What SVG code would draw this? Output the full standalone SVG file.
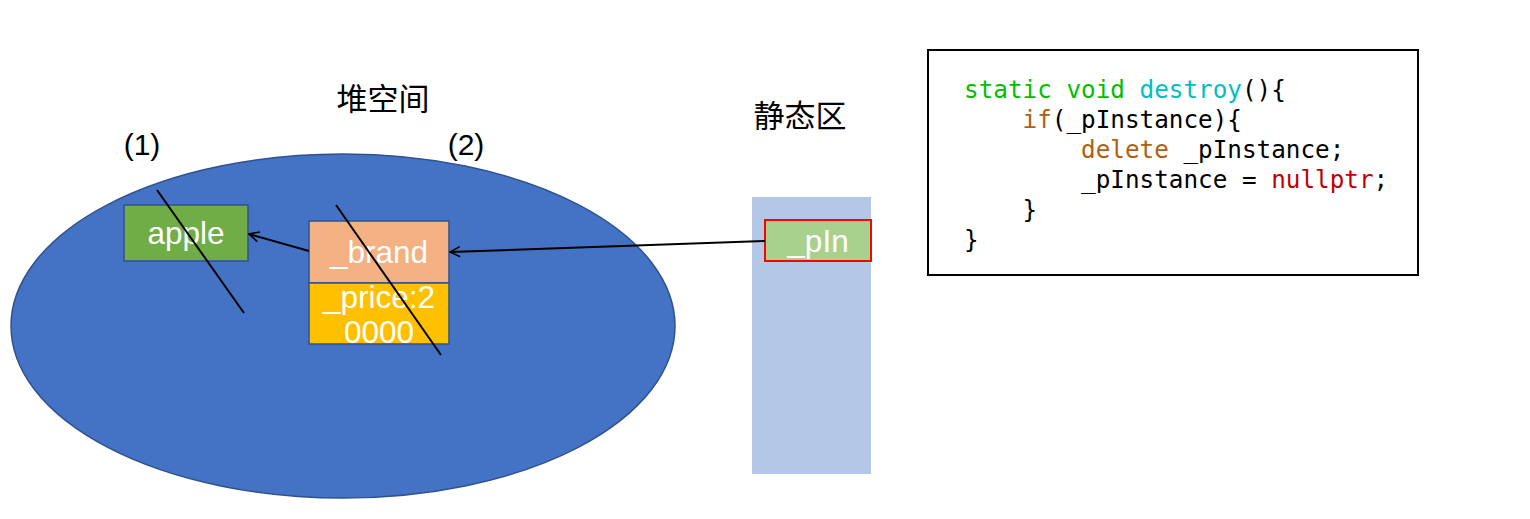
<svg xmlns="http://www.w3.org/2000/svg" width="1530" height="519" viewBox="0 0 1530 519">
<defs>
<style>
.lbl{font-family:"Liberation Sans",Arial,sans-serif;fill:#fff;font-size:31.5px;text-anchor:middle}
.blk{font-family:"Liberation Sans",Arial,sans-serif;fill:#000;font-size:30px;text-anchor:middle}
.cjk{font-family:"Liberation Serif","Noto Sans CJK SC",serif;fill:#000;font-size:31px;text-anchor:middle}
.code{font-family:"DejaVu Sans Mono",monospace;font-size:24.3px;fill:#000;white-space:pre}
.box{stroke:#2F528F;stroke-width:1.5}
.conn{stroke:#000;stroke-width:2;fill:none}
.kw{fill:#00C000}.fn{fill:#00C0C0}.br{fill:#B06010}.nl{fill:#C00000}
</style>
<marker id="arr" viewBox="0 0 12 12" refX="11" refY="6" markerWidth="12" markerHeight="12" markerUnits="userSpaceOnUse" orient="auto">
<path d="M1,1 L11,6 L1,11" fill="none" stroke="#000" stroke-width="1.6"/>
</marker>
</defs>
<rect width="1530" height="519" fill="#fff"/>
<g id="heap">
<ellipse cx="343" cy="326" rx="332" ry="172" fill="#4472C4" stroke="#2F528F" stroke-width="1.5"/>
</g>
<text class="cjk" x="383" y="110">堆空间</text>
<text class="blk" x="142" y="155">(1)</text>
<text class="blk" x="466" y="155">(2)</text>
<g id="static-area">
<rect x="752" y="197" width="119" height="277" fill="#B4C7E7"/>
</g>
<text class="cjk" x="800" y="127">静态区</text>
<g id="apple">
<rect class="box" x="124" y="205" width="124" height="56" fill="#70AD47"/>
<text class="lbl" x="186" y="244">apple</text>
</g>
<g id="object">
<rect class="box" x="309" y="221" width="140" height="62" fill="#F4B183"/>
<rect class="box" x="309" y="283" width="140" height="61" fill="#FFC000"/>
<text class="lbl" x="379" y="263">_brand</text>
<text class="lbl" x="379" y="308">_price:2</text>
<text class="lbl" x="379" y="343">0000</text>
</g>
<g id="pIn">
<rect x="765" y="220" width="106" height="41" fill="#A9D18E" stroke="#FF0000" stroke-width="2"/>
<text class="lbl" x="818" y="252">_pIn</text>
</g>
<g id="connectors">
<line class="conn" x1="309" y1="251" x2="249" y2="234" marker-end="url(#arr)"/>
<line class="conn" x1="765" y1="241" x2="450" y2="252" marker-end="url(#arr)"/>
<line class="conn" x1="157" y1="190" x2="244" y2="313"/>
<line class="conn" x1="336" y1="205" x2="441" y2="355"/>
</g>
<g id="code">
<rect x="928" y="50" width="490" height="225" fill="#fff" stroke="#000" stroke-width="2"/>
<text class="code" x="964" y="98"><tspan class="kw">static void </tspan><tspan class="fn">destroy</tspan>(){</text>
<text class="code" x="964" y="128">    <tspan class="br">if</tspan>(_pInstance){</text>
<text class="code" x="964" y="158">        <tspan class="br">delete</tspan> _pInstance;</text>
<text class="code" x="964" y="188">        _pInstance = <tspan class="nl">nullptr</tspan>;</text>
<text class="code" x="964" y="218">    }</text>
<text class="code" x="964" y="248">}</text>
</g>
</svg>
